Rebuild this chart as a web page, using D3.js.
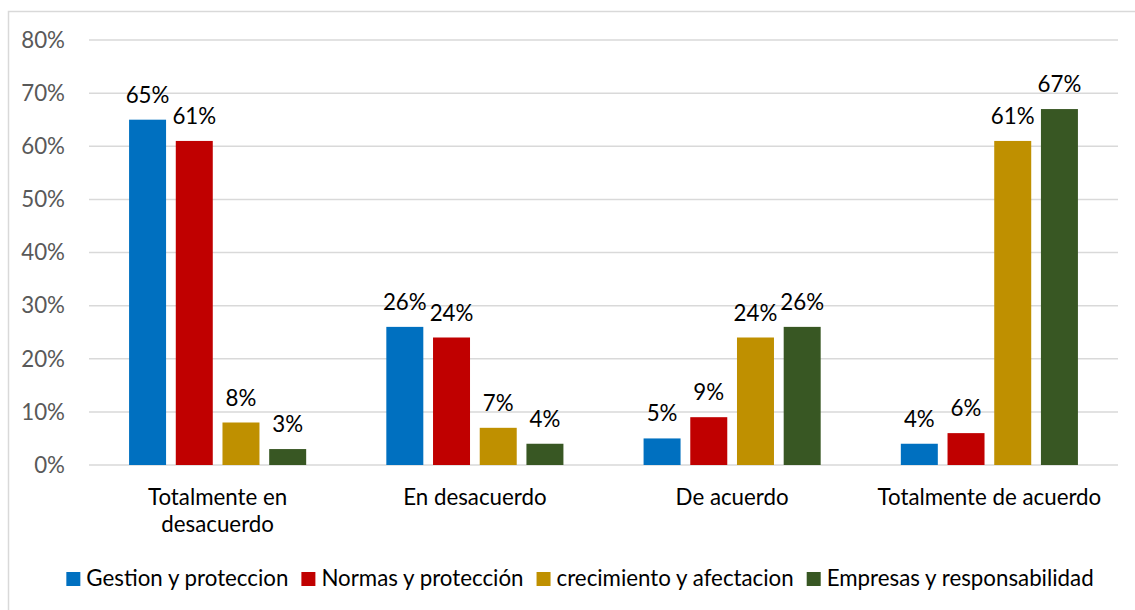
<!DOCTYPE html>
<html>
<head>
<meta charset="utf-8">
<script src="https://cdn.jsdelivr.net/npm/d3@7"></script>
<style>
    body { margin: 0; background: #fff; }
    svg { font-family: Lato, "Open Sans", sans-serif; }
</style>
</head>
<body>
<svg id="chart" width="1135" height="610"></svg>
<script>
// chart data
var categories = [['Totalmente en', 'desacuerdo'], ['En desacuerdo'], ['De acuerdo'], ['Totalmente de acuerdo']];
var seriesNames = ['Gestion y proteccion', 'Normas y protección', 'crecimiento y afectacion', 'Empresas y responsabilidad'];
var seriesColors = ['#0070C0', '#C00000', '#BF9000', '#385723'];
var gestion = [65, 26, 5, 4];
var normas = [61, 24, 9, 6];
var crecimiento = [8, 7, 24, 61];
var empresas = [3, 4, 26, 67];
var yTicks = [0, 10, 20, 30, 40, 50, 60, 70, 80];

var values = [gestion, normas, crecimiento, empresas];

var svg = d3.select('#chart'),
    plotLeft = 89, plotRight = 1118, plotTop = 40, plotBottom = 465,
    fontSize = 22.3;

// outer frame (only top and left edges fall inside the picture)
svg.append('path')
    .attr('d', 'M8.5,640V11.5H1140')
    .attr('fill', 'none')
    .attr('stroke', '#d9d9d9')
    .attr('stroke-width', 1.5);

var y = d3.scaleLinear().domain([0, 80]).range([plotBottom, plotTop]);

var x0 = d3.scaleBand()
    .domain(d3.range(categories.length))
    .range([plotLeft, plotRight]);

var x1 = d3.scaleBand()
    .domain(d3.range(seriesNames.length))
    .range([0, x0.bandwidth()])
    .paddingInner(0.208)
    .paddingOuter(0.858);

// gridlines
svg.append('g').selectAll('line').data(yTicks)
    .enter()
    .append('line')
    .attr('x1', plotLeft)
    .attr('x2', plotRight)
    .attr('y1', function (d) { return y(d); })
    .attr('y2', function (d) { return y(d); })
    .attr('stroke', '#d9d9d9')
    .attr('stroke-width', 1.5);

// y tick labels
svg.append('g').selectAll('text').data(yTicks)
    .enter()
    .append('text')
    .attr('x', 65)
    .attr('y', function (d) { return y(d); })
    .attr('dy', '0.35em')
    .attr('text-anchor', 'end')
    .attr('fill', '#595959')
    .attr('font-size', fontSize)
    .text(function (d) { return d + '%'; });

// bars and value labels
var groups = svg.append('g').selectAll('g').data(categories)
    .enter()
    .append('g')
    .attr('transform', function (d, i) { return 'translate(' + x0(i) + ',0)'; });

groups.each(function (cat, ci) {
    var g = d3.select(this);
    var cells = seriesNames.map(function (name, si) { return {s: si, v: values[si][ci]}; });

    g.selectAll('rect').data(cells)
        .enter()
        .append('rect')
        .attr('x', function (d) { return x1(d.s); })
        .attr('width', x1.bandwidth())
        .attr('y', function (d) { return y(d.v); })
        .attr('height', function (d) { return y(0) - y(d.v); })
        .attr('fill', function (d) { return seriesColors[d.s]; });

    g.selectAll('text.val').data(cells)
        .enter()
        .append('text')
        .attr('class', 'val')
        .attr('x', function (d) { return x1(d.s) + x1.bandwidth() / 2; })
        .attr('y', function (d) { return y(d.v) - 17; })
        .attr('text-anchor', 'middle')
        .attr('fill', '#000')
        .attr('font-size', fontSize)
        .text(function (d) { return d.v + '%'; });

    g.append('text')
        .attr('text-anchor', 'middle')
        .attr('fill', '#000')
        .attr('font-size', fontSize)
        .selectAll('tspan').data(cat)
        .enter()
        .append('tspan')
        .attr('x', x0.bandwidth() / 2)
        .attr('y', function (d, i) { return 505 + i * 27; })
        .text(function (d) { return d; });
});

// legend, centred under the chart
var legend = svg.append('g');
var pos = 0;
seriesNames.forEach(function (name, i) {
    var item = legend.append('g').attr('transform', 'translate(' + pos + ',0)');
    item.append('rect')
        .attr('x', 0).attr('y', 572)
        .attr('width', 14).attr('height', 14)
        .attr('fill', seriesColors[i]);
    var t = item.append('text')
        .attr('x', 20).attr('y', 586)
        .attr('fill', '#000')
        .attr('font-size', fontSize)
        .text(name);
    pos += 20 + t.node().getComputedTextLength() + 13;
});
legend.attr('transform', 'translate(' + (580 - (pos - 13) / 2) + ',0)');
</script>
</body>
</html>
